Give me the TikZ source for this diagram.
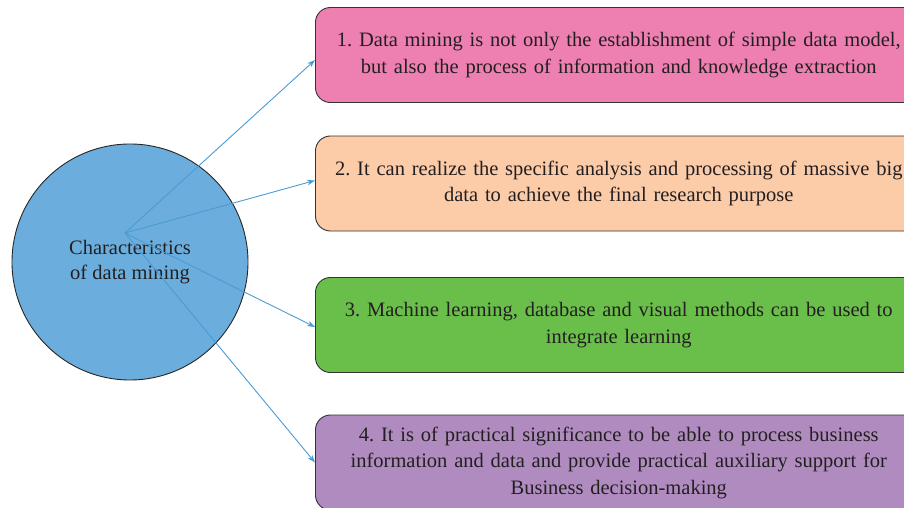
\documentclass[tikz,border=0pt]{standalone}
\usepackage{fontspec}
\setmainfont{Liberation Serif}
\usetikzlibrary{arrows.meta}
\definecolor{txt}{HTML}{231F20}
\definecolor{hubblue}{HTML}{6BAEDD}
\definecolor{linkblue}{HTML}{4A9BD3}
\definecolor{boxpink}{HTML}{ED80B1}
\definecolor{boxpeach}{HTML}{FCCBA8}
\definecolor{boxgreen}{HTML}{6ABF4B}
\definecolor{boxpurple}{HTML}{B08BC0}
\frenchspacing
\tikzset{
  itembox/.style={draw=black!80, line width=0.9pt, rounded corners=15pt,
    minimum width=604pt, minimum height=95pt, text width=600pt, align=center,
    anchor=west, text=txt, font=\fontsize{20.5}{26.5}\selectfont},
  link/.style={draw=linkblue, line width=0.9pt, -{Stealth[length=8pt,width=5.5pt]}},
}
\begin{document}
\begin{tikzpicture}[x=1pt,y=-1pt]
  \useasboundingbox (0,0) rectangle (904,508);
  \clip (0,0) rectangle (904,508);
  % central topic
  \node[circle, draw=black!85, line width=0.9pt, fill=hubblue, minimum size=236pt,
        align=center, text=txt, font=\fontsize{20.5}{25}\selectfont] (hub) at (130,262)
        {Characteristics\\of data mining};
  \coordinate (src) at (125,233);
  % characteristic boxes
  \node[itembox, fill=boxpink] (b1) at (315,55)
    {1. Data mining is not only the establishment of simple data model,\\but also the process of information and knowledge extraction};
  \node[itembox, fill=boxpeach] (b2) at (315,183.5)
    {2. It can realize the specific analysis and processing of massive big\\data to achieve the final research purpose};
  \node[itembox, fill=boxgreen] (b3) at (315,325)
    {3. Machine learning, database and visual methods can be used to\\integrate learning};
  \node[itembox, fill=boxpurple] (b4) at (315,462.5)
    {4. It is of practical significance to be able to process business\\information and data and provide practical auxiliary support for\\Business decision-making};
  % connectors
  \draw[link] (src) -- ([yshift=-5pt]b1.west);
  \draw[link] (src) -- ([yshift=3pt]b2.west);
  \draw[link] (src) -- ([yshift=-2pt]b3.west);
  \draw[link] (src) -- (b4.west);
\end{tikzpicture}
\end{document}
